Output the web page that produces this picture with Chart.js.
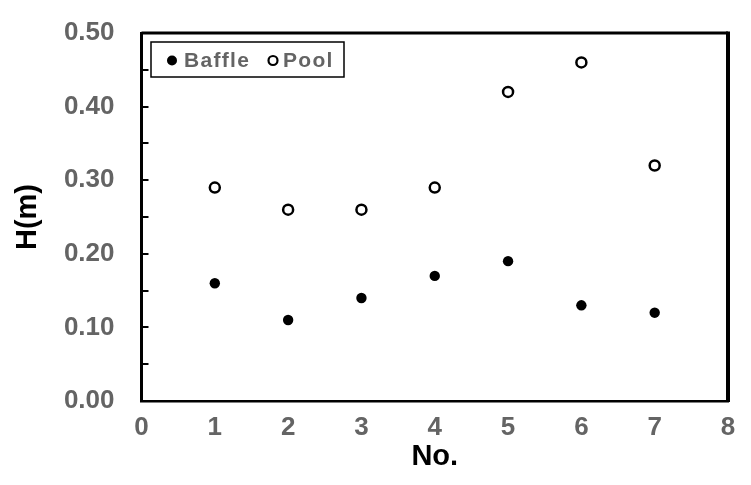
<!DOCTYPE html>
<html>
<head>
<meta charset="utf-8">
<script src="https://cdn.jsdelivr.net/npm/chart.js@4"></script>
<style>
  html, body { margin: 0; padding: 0; background: #fff; }
  #wrap { width: 751px; height: 485px; position: relative; }
</style>
</head>
<body>
<div id="wrap"><canvas id="c" width="751" height="485"></canvas></div>
<script>
// ---- data ----
const categories = [1, 2, 3, 4, 5, 6, 7];
const baffleH = [0.16, 0.11, 0.14, 0.17, 0.19, 0.13, 0.12];
const poolH = [0.29, 0.26, 0.26, 0.29, 0.42, 0.46, 0.32];
const seriesNames = ['Baffle', 'Pool'];
const xTickLabels = ['0', '1', '2', '3', '4', '5', '6', '7', '8'];
const yTickLabels = ['0.00', '0.10', '0.20', '0.30', '0.40', '0.50'];
const xTitle = 'No.';
const yTitle = 'H(m)';

const GRAY = '#646464';
const FONT = '"Liberation Sans", Arial, sans-serif';

const toPts = (ys) => categories.map((x, i) => ({ x: x, y: ys[i] }));

const framePlugin = {
  id: 'frame',
  afterDraw(chart) {
    const ctx = chart.ctx;
    const a = chart.chartArea;
    const ys = chart.scales.y;
    ctx.save();
    // top and right border
    ctx.strokeStyle = '#000';
    ctx.lineWidth = 3;
    ctx.beginPath();
    ctx.moveTo(a.left, a.top);
    ctx.lineTo(a.right, a.top);
    ctx.stroke();
    ctx.lineWidth = 4;
    ctx.beginPath();
    ctx.moveTo(a.right, a.top - 1.5);
    ctx.lineTo(a.right, a.bottom + 1);
    ctx.stroke();
    // inside y ticks
    ctx.lineWidth = 2;
    ys.ticks.forEach(t => {
      const py = Math.round(ys.getPixelForValue(t.value));
      if (py <= a.top + 2 || py >= a.bottom - 2) return;
      ctx.beginPath();
      ctx.moveTo(a.left, py);
      ctx.lineTo(a.left + 7, py);
      ctx.stroke();
    });
    // legend
    const bx = 151, by = 42, bw = 193, bh = 35;
    ctx.lineWidth = 1.5;
    ctx.strokeStyle = '#000';
    ctx.fillStyle = '#fff';
    ctx.fillRect(bx, by, bw, bh);
    ctx.strokeRect(bx, by, bw, bh);
    const ds = chart.data.datasets;
    const cy = by + bh / 2 + 1;
    ctx.font = 'bold 21px ' + FONT;
    ctx.letterSpacing = '1.3px';
    ctx.textBaseline = 'middle';
    ctx.textAlign = 'left';
    // Baffle marker
    ctx.beginPath();
    ctx.arc(172, cy, 5, 0, Math.PI * 2);
    ctx.fillStyle = ds[0].backgroundColor;
    ctx.fill();
    ctx.fillStyle = GRAY;
    ctx.fillText(ds[0].label, 184, cy + 1);
    // Pool marker
    ctx.beginPath();
    ctx.arc(273, cy, 4.5, 0, Math.PI * 2);
    ctx.fillStyle = '#fff';
    ctx.fill();
    ctx.lineWidth = 2.2;
    ctx.strokeStyle = ds[1].borderColor;
    ctx.stroke();
    ctx.fillStyle = GRAY;
    ctx.fillText(ds[1].label, 283, cy + 1);
    ctx.restore();
  }
};

new Chart(document.getElementById('c'), {
  type: 'scatter',
  data: {
    datasets: [
      {
        label: seriesNames[0],
        data: toPts(baffleH),
        pointRadius: 5.2,
        pointHoverRadius: 5.2,
        backgroundColor: '#000',
        borderColor: '#000',
        borderWidth: 0
      },
      {
        label: seriesNames[1],
        data: toPts(poolH),
        pointRadius: 5,
        pointHoverRadius: 5,
        backgroundColor: '#fff',
        borderColor: '#000',
        borderWidth: 2.5
      }
    ]
  },
  options: {
    responsive: false,
    animation: false,
    events: [],
    layout: { padding: { left: 0, right: 23, top: 33, bottom: 0 } },
    plugins: {
      legend: { display: false },
      tooltip: { enabled: false }
    },
    scales: {
      x: {
        type: 'linear',
        min: 0,
        max: 8,
        afterFit(s) { s.height = 84; s.paddingRight = 0; s.paddingLeft = 0; },
        ticks: {
          stepSize: 1,
          autoSkip: false,
          maxRotation: 0,
          padding: 11,
          color: GRAY,
          font: { family: FONT, size: 26, weight: 'bold' },
          callback: (v) => xTickLabels[Math.round(v)] ?? ''
        },
        grid: { display: true, drawOnChartArea: false, drawTicks: false },
        border: { display: true, color: '#000', width: 2.5 },
        title: {
          display: true,
          text: xTitle,
          color: '#000',
          font: { family: FONT, size: 29, weight: 'bold' },
          padding: { top: 0, bottom: 11 }
        }
      },
      y: {
        type: 'linear',
        min: 0,
        max: 0.5,
        afterFit(s) { s.width = 141.5; s.paddingTop = 0; s.paddingBottom = 0; },
        ticks: {
          stepSize: 0.05,
          autoSkip: false,
          padding: 27,
          color: GRAY,
          font: { family: FONT, size: 26, weight: 'bold' },
          callback: (v) => {
            const k = Math.round(v * 100);
            return k % 10 === 0 ? (yTickLabels[k / 10] ?? '') : '';
          }
        },
        grid: { display: true, drawOnChartArea: false, drawTicks: false },
        border: { display: true, color: '#000', width: 3 },
        title: {
          display: true,
          text: yTitle,
          color: '#000',
          font: { family: FONT, size: 29, weight: 'bold' },
          padding: { top: 11, bottom: 0 }
        }
      }
    }
  },
  plugins: [framePlugin]
});
</script>
</body>
</html>
